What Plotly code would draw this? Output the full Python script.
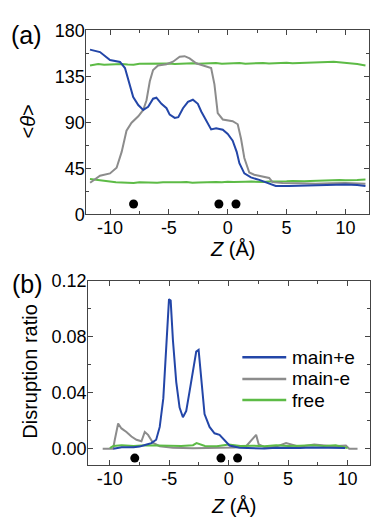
import plotly.graph_objects as go

# ---------------- Panel (a): <theta> vs Z ----------------
a_main_pe_x = [-11.7, -10.85, -10, -9.15, -8.73, -8.45, -8.03, -7.6, -7.18, -6.76, -6.34, -6.06,
               -5.63, -5.2, -4.93, -4.5, -4.2, -3.8, -3.38, -2.96, -2.54, -2.25, -1.83, -1.41,
               -0.99, -0.42, 0, 0.42, 0.76, 0.99, 1.41, 1.97, 2.68, 3.52, 4.08, 5.2, 6.3, 7.46,
               8.87, 10, 11.0, 11.7]
a_main_pe_y = [161, 158.6, 150.8, 149, 143, 132, 114.7, 106.8, 102, 105, 113, 114,
               108, 103.7, 97.4, 94.2, 95, 103.7, 110, 112, 108, 100.5, 91, 83,
               84, 82.6, 78.5, 72, 61, 50, 40, 36, 33.6, 30, 27.6, 27.6, 28, 28.3,
               29.2, 29.2, 28.5, 27.6]

a_main_me_x = [-11.69, -10.85, -10, -9.44, -9.01, -8.6, -8.17, -7.6, -7.18, -6.9, -6.62, -6.34,
               -5.92, -5.2, -4.65, -4.08, -3.66, -3.24, -2.68, -1.83, -1.41, -1.13, -0.85, -0.42,
               0.42, 0.85, 1.13, 1.41, 1.83, 2.25, 2.96, 3.52, 3.8, 4.65, 6, 7.46, 8.8, 10, 11.7]
a_main_me_y = [30.8, 37.7, 39.9, 45.5, 61, 81.7, 89.5, 95.8, 102, 111.5, 130, 141,
               145.5, 146.7, 149.2, 154, 154.6, 152.4, 147.7, 145, 143, 127, 99, 92.7,
               91, 88, 73.8, 55, 40.8, 38.6, 36.8, 35.5, 31.4, 30.5, 30.2, 29.8, 30.3, 30.5, 29.8]

a_free_x = [-11.7, -11, -10.5, -10, -9.5, -9, -8.5, -8, -7.5, -7, -6.5, -6, -5.5, -5, -4.5, -4,
            -3.5, -3, -2.5, -2, -1.5, -1, -0.5, 0, 0.5, 1, 1.5, 2, 2.5, 3, 3.5, 4, 4.5, 5,
            5.5, 6, 6.5, 7, 7.5, 8, 8.5, 9, 9.5, 10, 10.5, 11, 11.7]
a_free_hi_y = [145.5, 147, 146.2, 146.5, 147.3, 147, 146.4, 146.3, 147.1, 147.2, 146.6, 146.8,
               147.4, 147.5, 146.9, 147, 147.7, 147.6, 147.1, 147.2, 147.9, 148, 147.3, 147.5,
               148.1, 147.8, 147.3, 147.4, 148.2, 148, 147.5, 147.6, 148.3, 148.2, 147.7, 147.8,
               148.4, 148.3, 148, 148.6, 148.9, 149.2, 148.6, 148.5, 148.1, 147, 145.5]
a_free_lo_y = [34.5, 33.5, 32.4, 31.5, 31.3, 31, 30.5, 30.6, 31.2, 31, 30.5, 30.7, 31.2, 31,
               30.8, 31.2, 31.5, 30.9, 31.1, 31.3, 31.7, 31.5, 31.2, 31.8, 31.6, 31.4, 31.8,
               31.9, 31.5, 31.6, 32.1, 32, 31.8, 32.2, 32.4, 32, 32.3, 32.5, 32.8, 32.4, 32.7,
               33, 33.4, 33.2, 33.1, 33.5, 34]

dots_a_x = [-8.0, -0.75, 0.7]
dots_a_y = [10, 10, 10]

# ---------------- Panel (b): disruption ratio vs Z ----------------
b_main_pe_x = [-9.7, -9, -8, -7.5, -6.9, -6.5, -6.1, -5.8, -5.5, -5.24, -5.02, -4.88, -4.69,
               -4.41, -4.13, -3.85, -3.57, -3.29, -3.01, -2.73, -2.53, -2.31, -2.03, -1.61,
               -1.19, -0.77, -0.35, 0.07, 0.9, 2, 3, 4, 5, 6, 7, 8, 9, 9.8]
b_main_pe_y = [0, 0.001, 0.001, 0.0015, 0.003, 0.004, 0.0064, 0.0156, 0.036, 0.0707, 0.107,
               0.106, 0.0776, 0.0477, 0.0294, 0.0225, 0.027, 0.041, 0.057, 0.0695, 0.0707,
               0.048, 0.0248, 0.0156, 0.011, 0.0099, 0.0064, 0.0023, 0.0007, 0.0005, 0.0002,
               0.0006, 0.0004, 0.0005, 0.0008, 0.0006, 0.0009, 0.0005]

b_main_me_x = [-10.6, -9.72, -9.58, -9.3, -9.02, -8.6, -8.18, -7.76, -7.34, -7.06, -6.78, -6.36,
               -5.8, -4.69, -3, -1, 0.5, 1.47, 2.03, 2.31, 2.53, 3.15, 4, 4.83, 5.94, 7.2,
               8.74, 9.86, 10.14, 10.84]
b_main_me_y = [0, 0, 0.0064, 0.018, 0.0145, 0.012, 0.0087, 0.0064, 0.0053, 0.012, 0.0099,
               0.0041, 0.0018, 0.0007, 0.0003, 0.0005, 0.0008, 0.0018, 0.0076, 0.0099, 0.003,
               0.0007, 0.0015, 0.004, 0.0014, 0.003, 0.0018, 0.0023, 0, 0]

b_free_x = [-10, -9.7, -9, -8, -7, -6, -5, -4, -3, -2.7, -2, -1, 0, 1, 2, 3, 4, 5, 6, 7, 8,
            9, 10]
b_free_y = [0.0005, 0.002, 0.0025, 0.002, 0.0025, 0.0022, 0.0018, 0.002, 0.0025, 0.004,
            0.002, 0.0018, 0.003, 0.002, 0.0022, 0.0018, 0.0025, 0.002, 0.0022, 0.0025,
            0.002, 0.0025, 0.0005]

dots_b_x = [-7.9, -0.65, 0.75]
dots_b_y = [-0.0067, -0.0067, -0.0067]

x_tickvals = [-10, -5, 0, 5, 10]
x_ticktext = ["-10", "-5", "0", "5", "10"]
a_tickvals = [0, 45, 90, 135, 180]
b_tickvals = [0.0, 0.04, 0.08, 0.12]
b_ticktext = ["0.00", "0.04", "0.08", "0.12"]
legend_names = ["main+e", "main-e", "free"]

BLUE = "#2346a8"
GRAY = "#8c8c8c"
GREEN = "#5dbb46"
FONT = "Liberation Sans, Arial, sans-serif"
W, H = 371, 527

fig = go.Figure()
lw = 2
fig.add_trace(go.Scatter(x=a_free_x, y=a_free_hi_y, mode="lines", line=dict(color=GREEN, width=lw),
                         xaxis="x", yaxis="y", showlegend=False))
fig.add_trace(go.Scatter(x=a_free_x, y=a_free_lo_y, mode="lines", line=dict(color=GREEN, width=lw),
                         xaxis="x", yaxis="y", showlegend=False))
fig.add_trace(go.Scatter(x=a_main_me_x, y=a_main_me_y, mode="lines", line=dict(color=GRAY, width=lw),
                         xaxis="x", yaxis="y", showlegend=False))
fig.add_trace(go.Scatter(x=a_main_pe_x, y=a_main_pe_y, mode="lines", line=dict(color=BLUE, width=lw),
                         xaxis="x", yaxis="y", showlegend=False))
fig.add_trace(go.Scatter(x=dots_a_x, y=dots_a_y, mode="markers", marker=dict(color="black", size=9),
                         xaxis="x", yaxis="y", showlegend=False))

fig.add_trace(go.Scatter(x=b_main_me_x, y=b_main_me_y, mode="lines", line=dict(color=GRAY, width=lw),
                         xaxis="x2", yaxis="y2", showlegend=False, name=legend_names[1]))
fig.add_trace(go.Scatter(x=b_free_x, y=b_free_y, mode="lines", line=dict(color=GREEN, width=lw),
                         xaxis="x2", yaxis="y2", showlegend=False, name=legend_names[2]))
fig.add_trace(go.Scatter(x=b_main_pe_x, y=b_main_pe_y, mode="lines", line=dict(color=BLUE, width=lw),
                         xaxis="x2", yaxis="y2", showlegend=False, name=legend_names[0]))
fig.add_trace(go.Scatter(x=dots_b_x, y=dots_b_y, mode="markers", marker=dict(color="black", size=9),
                         xaxis="x2", yaxis="y2", showlegend=False))

axis_common = dict(showline=True, linecolor="#444", linewidth=1, mirror="ticks",
                   ticks="inside", ticklen=5, tickcolor="#444", tickwidth=1,
                   showgrid=False, zeroline=False, ticklabelstandoff=-3,
                   tickfont=dict(family=FONT, size=18, color="black"))
minor_common = dict(ticks="inside", ticklen=3, tickcolor="#444", tickwidth=1, showgrid=False)

fig.update_layout(
    width=W, height=H, autosize=False,
    margin=dict(l=0, r=0, t=0, b=0),
    paper_bgcolor="white", plot_bgcolor="white",
    showlegend=False,
    xaxis=dict(domain=[86.7 / W, 370 / W], range=[-12, 12], anchor="y",
               tickvals=x_tickvals, ticktext=x_ticktext,
               minor=dict(dtick=2.5, **minor_common), **axis_common),
    yaxis=dict(domain=[1 - 212.3 / H, 1 - 21 / H], range=[0, 180], anchor="x",
               tickvals=a_tickvals, minor=dict(dtick=22.5, **minor_common), **axis_common),
    xaxis2=dict(domain=[88.3 / W, 1.0], range=[-11.83, 11.89], anchor="y2",
                tickvals=x_tickvals, ticktext=x_ticktext,
                minor=dict(dtick=2.5, **minor_common), **axis_common),
    yaxis2=dict(domain=[1 - 473 / H, 1 - 281.7 / H], range=[-0.0117, 0.12], anchor="x2",
                tickvals=b_tickvals, ticktext=b_ticktext,
                minor=dict(dtick=0.02, **minor_common), **axis_common),
)

annots = [
    dict(text="(a)", x=9 / W, y=1 - 26 / H, xanchor="left", yanchor="middle", size=25),
    dict(text="(b)", x=10 / W, y=1 - 285 / H, xanchor="left", yanchor="middle", size=25),
    dict(text="<i>Z</i> (Å)", x=233 / W, y=1 - 248 / H, xanchor="center", yanchor="middle", size=20),
    dict(text="<i>Z</i> (Å)", x=234 / W, y=1 - 516 / H, xanchor="center", yanchor="middle", size=20),
    dict(text="&lt;<i>θ</i>&gt;", x=28 / W, y=1 - 116 / H, xanchor="center", yanchor="middle",
         size=20, angle=-90),
    dict(text="Disruption ratio", x=30 / W, y=1 - 375 / H, xanchor="center", yanchor="middle",
         size=20, angle=-90),
]
for a in annots:
    fig.add_annotation(text=a["text"], x=a["x"], y=a["y"], xref="paper", yref="paper",
                       xanchor=a["xanchor"], yanchor=a["yanchor"], showarrow=False,
                       textangle=a.get("angle", 0),
                       font=dict(family=FONT, size=a["size"], color="black"))

# legend for panel (b)
leg_colors = [BLUE, GRAY, GREEN]
leg_rows = [361, 383.5, 405.5]
for name, col, yy in zip(legend_names, leg_colors, leg_rows):
    fig.add_shape(type="line", xref="paper", yref="paper",
                  x0=243 / W, x1=287 / W, y0=1 - yy / H, y1=1 - yy / H,
                  line=dict(color=col, width=2.5))
    fig.add_annotation(text=name, x=291 / W, y=1 - yy / H, xref="paper", yref="paper",
                       xanchor="left", yanchor="middle", showarrow=False,
                       font=dict(family=FONT, size=19, color="black"))

fig.write_html("out.html", config={"displayModeBar": False},
               post_script="document.body.style.margin='0';document.body.style.overflow='hidden';")
